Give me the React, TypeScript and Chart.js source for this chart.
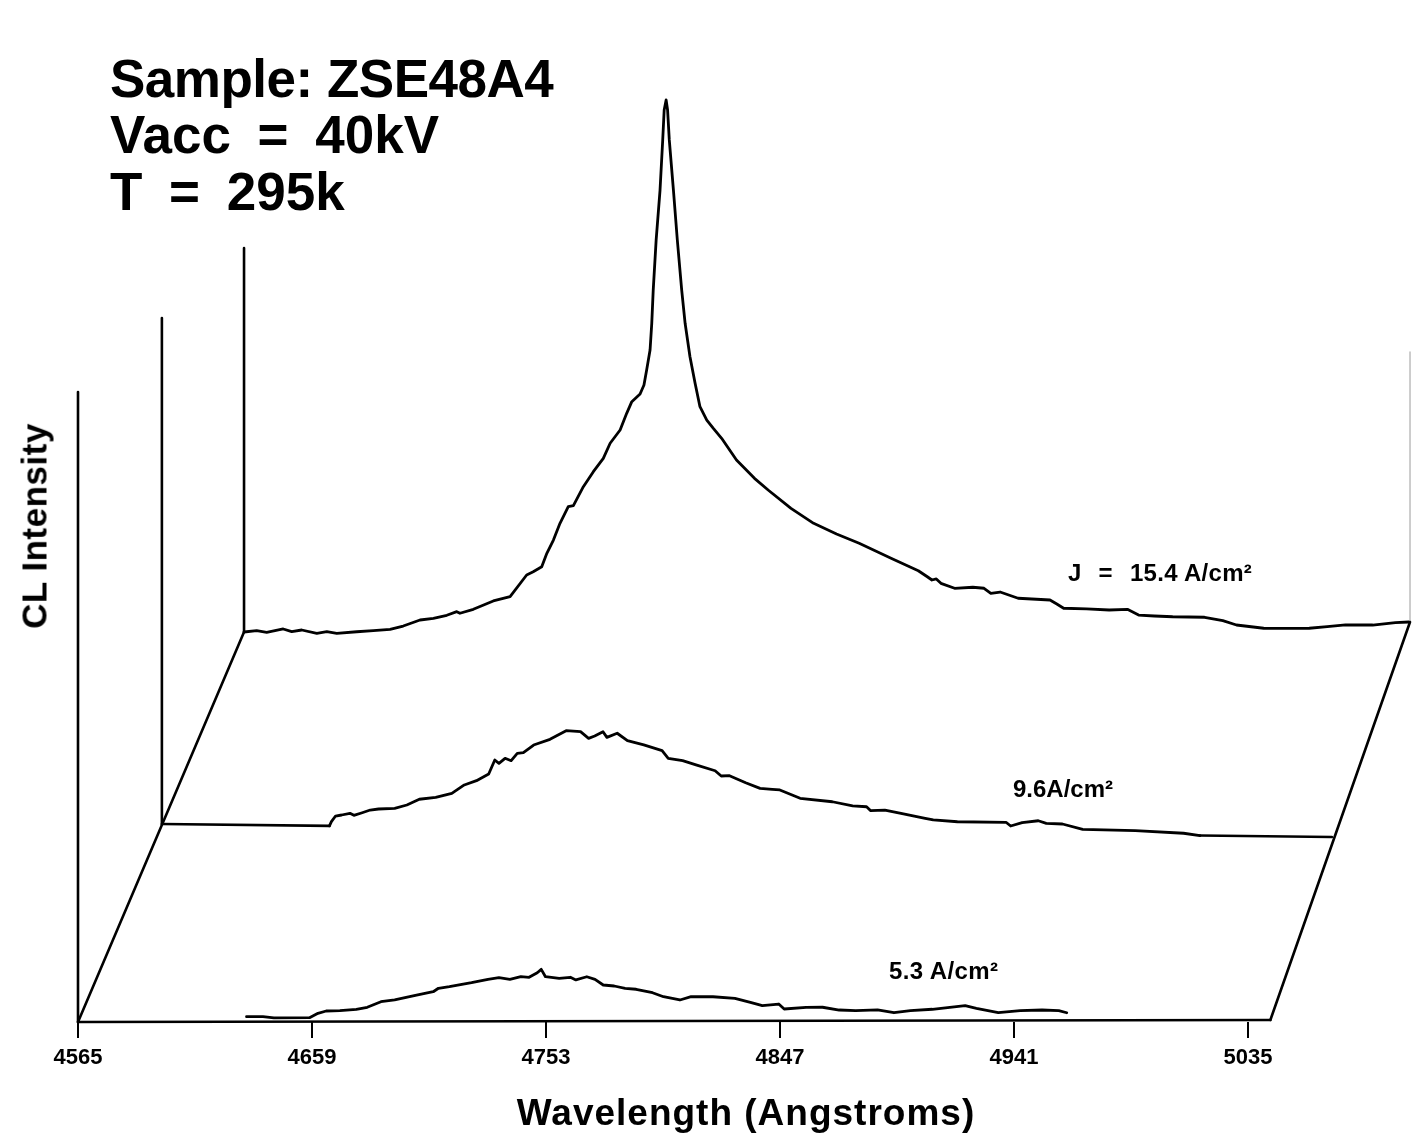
import React, { useEffect, useRef } from "react";
import { Chart, registerables } from "chart.js";

Chart.register(...registerables);

// ---------------- data ----------------
const TICK_LABELS = [4565, 4659, 4753, 4847, 4941, 5035];
const SERIES_NAMES = ["5.3 A/cm²", "9.6A/cm²", "J = 15.4 A/cm²"];
const TITLE_LINES = ["Sample: ZSE48A4", "Vacc = 40kV", "T = 295k"];
const X_TITLE = "Wavelength (Angstroms)";
const Y_TITLE = "CL Intensity";

// J = 5.3 A/cm² (front trace)
const WL_5_3 = [
  4632.7, 4639.3, 4643.7, 4658.0, 4661.4, 4664.7, 4670.2, 4676.8, 4681.2, 4686.7,
  4692.2, 4701.0, 4707.7, 4709.8, 4714.2, 4723.1, 4729.7, 4734.1, 4738.5, 4742.9,
  4746.2, 4749.5, 4751.1, 4752.8, 4758.3, 4762.8, 4765.0, 4769.4, 4772.7, 4776.0,
  4780.4, 4784.8, 4789.2, 4795.8, 4800.2, 4806.8, 4811.3, 4820.1, 4828.9, 4835.5,
  4839.9, 4846.5, 4848.7, 4857.5, 4864.1, 4870.8, 4877.4, 4886.2, 4892.8, 4899.4,
  4908.2, 4921.4, 4925.9, 4934.7, 4943.5, 4952.3, 4959.0, 4962.2,
];
const CL_5_3 = [
  5.0, 5.0, 3.7, 3.9, 8.3, 10.6, 10.9, 12.2, 14.2, 19.8,
  21.5, 26.4, 29.7, 33.1, 34.7, 38.6, 42.0, 43.6, 42.0, 44.6,
  43.9, 48.5, 51.9, 44.5, 42.9, 43.9, 41.2, 44.4, 41.8, 36.1,
  35.1, 32.8, 31.8, 28.3, 24.3, 21.0, 24.3, 24.2, 22.6, 18.2,
  15.2, 16.8, 11.8, 13.5, 13.5, 10.7, 10.0, 10.7, 7.9, 9.9,
  11.3, 14.8, 12.2, 7.8, 9.7, 10.4, 9.7, 7.6,
];

// J = 9.6 A/cm² (middle trace)
const WL_9_6 = [
  4633.6, 4634.4, 4636.1, 4638.6, 4642.0, 4643.6, 4647.0, 4650.3, 4653.7, 4660.3,
  4665.3, 4670.4, 4677.1, 4683.7, 4688.8, 4693.8, 4698.8, 4701.3, 4703.0, 4705.5,
  4708.0, 4710.5, 4713.0, 4717.2, 4723.9, 4727.2, 4730.5, 4736.4, 4739.7, 4742.2,
  4745.6, 4747.2, 4751.4, 4755.6, 4762.3, 4769.8, 4772.3, 4778.2, 4784.0, 4791.5,
  4794.0, 4797.4, 4804.0, 4809.9, 4814.9, 4818.0, 4826.3, 4839.5, 4847.8, 4853.5,
  4855.2, 4861.0, 4867.6, 4877.5, 4880.8, 4890.7, 4910.6, 4912.5, 4917.2, 4923.8,
  4927.1, 4933.7, 4942.0, 4963.5, 4983.3, 4990.0,
];
const CL_9_6 = [
  0, 4.2, 9.9, 11.0, 12.8, 10.8, 13.5, 16.3, 17.4, 18.3,
  21.7, 27.6, 29.7, 33.9, 42.4, 46.8, 53.6, 67.7, 64.4, 69.5,
  67.2, 74.6, 75.3, 83.1, 89.0, 93.4, 97.8, 97.0, 90.4, 92.8,
  97.2, 91.6, 95.8, 88.5, 84.4, 78.9, 71.3, 69.1, 64.9, 59.4,
  54.2, 54.6, 47.8, 42.3, 41.5, 40.9, 32.8, 29.7, 25.7, 25.1,
  21.2, 22.0, 18.9, 14.2, 12.6, 11.1, 11.1, 7.4, 10.9, 13.0,
  10.5, 10.0, 4.9, 4.1, 2.1, 0,
];

// J = 15.4 A/cm² (back trace)
const WL_15_4 = [
  4565.0, 4570.2, 4574.3, 4581.1, 4584.6, 4588.7, 4594.9, 4599.0, 4603.1, 4611.3,
  4618.1, 4625.0, 4630.4, 4637.3, 4642.8, 4648.3, 4652.4, 4653.7, 4659.2, 4667.4,
  4674.3, 4681.1, 4683.8, 4687.3, 4689.4, 4692.1, 4694.8, 4698.2, 4700.3, 4704.4,
  4708.5, 4712.6, 4715.4, 4719.5, 4722.2, 4724.3, 4727.7, 4729.3, 4730.4, 4731.8,
  4732.5, 4733.1, 4734.3, 4735.9, 4737.0, 4737.6, 4738.4, 4739.0, 4739.7, 4741.4,
  4743.0, 4744.8, 4746.2, 4748.2, 4750.3, 4752.3, 4755.1, 4757.8, 4761.2, 4767.3,
  4774.7, 4780.3, 4789.7, 4799.0, 4808.4, 4817.7, 4830.8, 4842.0, 4845.7, 4847.6,
  4849.4, 4851.3, 4856.9, 4864.4, 4869.0, 4871.8, 4875.6, 4883.0, 4896.1, 4898.9,
  4901.7, 4911.1, 4920.4, 4927.9, 4932.5, 4939.0, 4946.5, 4959.6, 4967.1, 4972.7,
  4983.9, 4995.1, 5002.6, 5010.0, 5017.5, 5028.7, 5038.0, 5043.6,
];
const CL_15_4 = [
  0, 1.2, -0.5, 2.7, -0.1, 1.5, -1.9, -0.4, -2.1, -0.7,
  0.2, 1.4, 4.6, 10.5, 12.1, 15.0, 18.5, 16.9, 20.7, 28.9,
  33.0, 54.6, 57.8, 62.7, 76.1, 89.3, 106.0, 122.5, 123.5, 142.4,
  157.3, 170.6, 185.6, 198.8, 215.4, 227.0, 234.6, 243.6, 258.6, 278.5,
  305.1, 338.4, 388.4, 438.4, 488.4, 518.4, 528.4, 518.4, 488.4, 438.3,
  388.3, 338.2, 304.9, 271.5, 244.8, 221.4, 208.0, 199.6, 189.6, 167.8,
  149.3, 137.5, 119.0, 103.8, 92.9, 83.4, 68.2, 55.5, 49.4, 46.1,
  47.1, 42.7, 37.6, 38.5, 37.4, 32.3, 33.5, 27.1, 25.1, 21.0,
  16.7, 15.8, 14.6, 15.1, 9.3, 8.2, 7.3, 6.5, 2.9, -1.5,
  -5.0, -5.3, -5.4, -4.0, -2.4, -2.7, -0.6, 0,
];

// ---------------- layout (pseudo-3D waterfall projection) ----------------
const FONT = '"Liberation Sans", Arial, Helvetica, sans-serif';
const X_MIN = 4565;
const X_MAX = 5101.3;
const Y_MAX = 1022;
const FLOOR_START = 4565;
const FLOOR_END = 5044;
// depth layers: floor start/end in chart units and height of the intensity axis
const LAYERS = [
  { x0: 4565.0, y0: 0, x1: 5044.0, y1: 2, axis: 630 },
  { x0: 4598.7, y0: 198, x1: 5068.7, y1: 185, axis: 506 },
  { x0: 4631.7, y0: 390, x1: 5100.1, y1: 400, axis: 384 },
];
const RIGHT_AXIS_HEIGHT = 270;

function project(layer: number, w: number, v: number) {
  const L = LAYERS[layer];
  const t = (w - FLOOR_START) / (FLOOR_END - FLOOR_START);
  return { x: L.x0 + t * (L.x1 - L.x0), y: L.y0 + t * (L.y1 - L.y0) + v };
}

function seg(data: { x: number; y: number }[], color = "#000", width = 2.6) {
  return {
    data,
    showLine: true,
    borderColor: color,
    backgroundColor: color,
    borderWidth: width,
    pointRadius: 0,
    pointHoverRadius: 0,
    tension: 0,
    fill: false,
    clip: false as any,
    borderJoinStyle: "round" as const,
    borderCapStyle: "round" as const,
  };
}

function buildDatasets() {
  const spectra = [
    { layer: 0, wl: WL_5_3, cl: CL_5_3 },
    { layer: 1, wl: WL_9_6, cl: CL_9_6 },
    { layer: 2, wl: WL_15_4, cl: CL_15_4 },
  ];
  const ds: any[] = [];
  // floor frame
  ds.push(seg([project(0, FLOOR_START, 0), project(0, FLOOR_END, 0)]));
  ds.push(seg([project(1, FLOOR_START, 0), project(1, WL_9_6[0], 0)]));
  ds.push(seg([project(1, WL_9_6[WL_9_6.length - 1], 0), project(1, FLOOR_END, 0)]));
  ds.push(seg([project(0, FLOOR_START, 0), project(2, FLOOR_START, 0)]));
  ds.push(seg([project(0, FLOOR_END, 0), project(2, FLOOR_END, 0)]));
  // intensity axes
  LAYERS.forEach((L, k) => {
    ds.push(seg([project(k, FLOOR_START, 0), project(k, FLOOR_START, L.axis)]));
  });
  ds.push(seg([project(2, FLOOR_END, 0), project(2, FLOOR_END, RIGHT_AXIS_HEIGHT)], "#bdbdbd", 1.5));
  // spectra
  spectra.forEach((s, i) => {
    const pts = s.wl.map((w, j) => project(s.layer, w, s.cl[j]));
    ds.push({ ...seg(pts, "#000", 2.8), label: SERIES_NAMES[i] });
  });
  return ds;
}

export default function App() {
  const ref = useRef<HTMLCanvasElement>(null);

  useEffect(() => {
    document.body.style.margin = "0";
    const chart = new Chart(ref.current as HTMLCanvasElement, {
      type: "scatter",
      data: { datasets: buildDatasets() },
      options: {
        responsive: false,
        animation: false,
        devicePixelRatio: 1,
        layout: { padding: { left: 78, right: 0, top: 0, bottom: 0 } },
        plugins: {
          legend: { display: false },
          tooltip: { enabled: false },
          title: { display: false },
        },
        events: [],
        scales: {
          x: {
            type: "linear",
            min: X_MIN,
            max: X_MAX,
            afterBuildTicks: (scale: any) => {
              scale.ticks = TICK_LABELS.map((v) => ({ value: v }));
            },
            afterFit: (scale: any) => {
              scale.height = 120;
            },
            ticks: {
              autoSkip: false,
              maxRotation: 0,
              minRotation: 0,
              padding: 7,
              color: "#000",
              font: { family: FONT, size: 22, weight: "bold" },
              callback: (v: any) => String(v),
            },
            grid: {
              display: true,
              drawOnChartArea: false,
              drawTicks: true,
              tickLength: 16,
              color: "#000",
              lineWidth: 2,
            },
            border: { display: false },
          },
          y: {
            type: "linear",
            min: 0,
            max: Y_MAX,
            display: false,
          },
        },
      } as any,
    });
    return () => chart.destroy();
  }, []);

  const base: React.CSSProperties = {
    position: "absolute",
    fontFamily: FONT,
    fontWeight: 700,
    color: "#000",
    whiteSpace: "pre",
  };

  const jParts = SERIES_NAMES[2].split(" ");

  return (
    <div
      style={{
        position: "absolute",
        left: 0,
        top: 0,
        width: 1413,
        height: 1142,
        background: "#fff",
        overflow: "hidden",
      }}
    >
      <canvas
        ref={ref}
        width={1413}
        height={1142}
        style={{ position: "absolute", left: 0, top: 0, width: 1413, height: 1142 }}
      />
      <div style={{ ...base, left: 110, top: 50, fontSize: 53, lineHeight: "57px", letterSpacing: "-0.5px" }}>
        {TITLE_LINES[0]}
      </div>
      <div style={{ ...base, left: 110, top: 106, fontSize: 53, lineHeight: "57px", wordSpacing: "12px" }}>
        {TITLE_LINES[1]}
      </div>
      <div style={{ ...base, left: 110, top: 163, fontSize: 53, lineHeight: "57px", wordSpacing: "12px" }}>
        {TITLE_LINES[2]}
      </div>
      <div
        style={{
          ...base,
          left: 34,
          top: 526,
          fontSize: 35,
          lineHeight: "35px",
          letterSpacing: "0.5px",
          transform: "translate(-50%, -50%) rotate(-90deg)",
        }}
      >
        {Y_TITLE}
      </div>
      <div
        style={{
          ...base,
          left: 746,
          top: 1094,
          fontSize: 37,
          lineHeight: "37px",
          letterSpacing: "1px",
          transform: "translateX(-50%)",
        }}
      >
        {X_TITLE}
      </div>
      <div style={{ ...base, left: 1068, top: 561, fontSize: 24, lineHeight: "24px", letterSpacing: "0.3px" }}>
        <span style={{ wordSpacing: "10px" }}>{jParts.slice(0, 3).join(" ")}</span>
        {" " + jParts.slice(3).join(" ")}
      </div>
      <div style={{ ...base, left: 1013, top: 777, fontSize: 24, lineHeight: "24px" }}>
        {SERIES_NAMES[1]}
      </div>
      <div style={{ ...base, left: 889, top: 959, fontSize: 24, lineHeight: "24px", letterSpacing: "0.4px" }}>
        {SERIES_NAMES[0]}
      </div>
    </div>
  );
}
